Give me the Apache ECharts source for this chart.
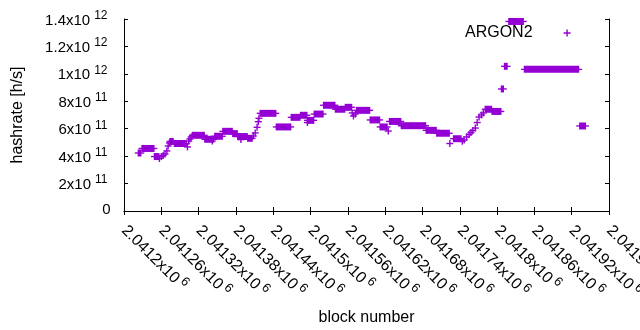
<!DOCTYPE html>
<html>
<head>
<meta charset="utf-8">
<script src="https://cdn.jsdelivr.net/npm/echarts@6.0.0/dist/echarts.min.js"></script>
<style>
html,body{margin:0;padding:0;background:#fff}
#chart{width:640px;height:330px}
</style>
</head>
<body>
<div id="chart"></div>
<script>
// runs of blocks that share one hashrate value (a single block when from == to)
var runFrom = [2041223,2041229,2041249,2041257,2041260,2041263,2041266,2041269,2041271,2041273,
  2041274,2041281,2041302,2041304,2041306,2041308,2041310,2041330,2041342,2041346,
  2041359,2041375,2041383,2041388,2041399,2041408,2041411,2041414,2041416,2041417,
  2041419,2041445,2041469,2041484,2041495,2041495,2041506,2041521,2041540,2041556,
  2041567,2041569,2041572,2041574,2041596,2041612,2041625,2041627,2041646,2041686,
  2041703,2041724,2041730,2041744,2041747,2041751,2041755,2041758,2041761,2041765,
  2041768,2041771,2041775,2041778,2041781,2041792,2041807,2041812,2041819,2041844,
  2041933];
var runTo = [2041227,2041248,2041256,2041257,2041260,2041263,2041266,2041269,2041271,2041273,
  2041279,2041300,2041302,2041304,2041306,2041308,2041329,2041344,2041342,2041358,
  2041374,2041382,2041398,2041388,2041406,2041408,2041411,2041414,2041416,2041417,
  2041444,2041468,2041483,2041494,2041505,2041495,2041520,2041539,2041555,2041566,
  2041567,2041569,2041572,2041595,2041611,2041623,2041625,2041645,2041685,2041702,
  2041723,2041724,2041742,2041744,2041747,2041751,2041755,2041758,2041761,2041765,
  2041768,2041771,2041775,2041778,2041791,2041806,2041810,2041816,2041842,2041931,
  2041942];
var runHashrate = [4.23e11,4.56e11,3.97e11,3.83e11,3.97e11,4.05e11,4.16e11,4.38e11,4.74e11,4.96e11,
  5.07e11,4.92e11,4.67e11,5.10e11,5.25e11,5.40e11,5.52e11,5.23e11,5.10e11,5.45e11,
  5.81e11,5.64e11,5.43e11,5.21e11,5.30e11,5.47e11,5.69e11,6.10e11,6.51e11,6.76e11,
  7.12e11,6.13e11,6.83e11,6.98e11,6.61e11,6.45e11,7.07e11,7.71e11,7.42e11,7.56e11,
  7.15e11,6.93e11,7.07e11,7.34e11,6.64e11,6.13e11,5.83e11,6.53e11,6.22e11,5.88e11,
  5.67e11,4.92e11,5.27e11,5.08e11,5.18e11,5.40e11,5.58e11,5.72e11,5.87e11,6.05e11,
  6.45e11,6.85e11,7.00e11,7.15e11,7.42e11,7.26e11,8.90e11,1.055e12,1.382e12,1.033e12,
  6.20e11];

var xMin = 2041200, xMax = 2041980, xStep = 60;
var xTickLabels = ['2.0412x10^6','2.04126x10^6','2.04132x10^6','2.04138x10^6','2.04144x10^6',
  '2.0415x10^6','2.04156x10^6','2.04162x10^6','2.04168x10^6','2.04174x10^6','2.0418x10^6',
  '2.04186x10^6','2.04192x10^6','2.04198x10^6'];
var yStep = 2e11;
var yTickLabels = ['0','2x10^11','4x10^11','6x10^11','8x10^11','1x10^12','1.2x10^12','1.4x10^12'];

var FONT = 'Liberation Sans';
var PURPLE = '#9400d3';

function sup(s) {
  var p = s.split('^');
  return p.length > 1 ? '{b|' + p[0] + '}{s|' + p[1] + '}' : '{b|' + p[0] + '}';
}
// exponent sits in a taller token so it rides above the base text
var yRich = {
  b: {fontFamily: FONT, fontSize: 15, color: '#000', lineHeight: 20, verticalAlign: 'bottom'},
  s: {fontFamily: FONT, fontSize: 12, color: '#000', lineHeight: 25, verticalAlign: 'middle', padding: [0, 3, 0, 4]}
};
var xRich = {
  b: {fontFamily: FONT, fontSize: 16, color: '#000', lineHeight: 20, verticalAlign: 'bottom'},
  s: {fontFamily: FONT, fontSize: 12.8, color: '#000', lineHeight: 26, verticalAlign: 'middle', padding: [0, 0, 0, 3]}
};

var runs = runFrom.map(function (b, i) {
  return [b, runTo[i], runHashrate[i]];
});

var myChart = echarts.init(document.getElementById('chart'));
var frameAxis = {
  axisLine: {show: true, lineStyle: {color: '#000', width: 1}},
  axisTick: {show: true, inside: true, length: 4, lineStyle: {color: '#000'}},
  axisLabel: {show: false},
  splitLine: {show: false}
};
var option = {
  animation: false,
  backgroundColor: '#fff',
  grid: {left: 124, right: 31, top: 19, bottom: 119, containLabel: false, outerBoundsMode: 'none'},
  legend: {
    left: 465, top: 25, padding: 0,
    align: 'right',
    itemWidth: 59, itemHeight: 7,
    selectedMode: false,
    textStyle: {fontFamily: FONT, fontSize: 16, color: '#000', padding: [4, 0, 0, 0]},
    data: [{
      name: 'ARGON2',
      icon: 'path://M0 0M59 7M26 2.8H33V4.2H26ZM28.8 0H30.2V7H28.8Z'
    }]
  },
  xAxis: [{
    type: 'value', min: xMin, max: xMax, interval: xStep,
    name: 'block number', nameLocation: 'middle', nameGap: 99,
    nameTextStyle: {fontFamily: FONT, fontSize: 16, color: '#000'},
    axisLine: {show: true, onZero: false, lineStyle: {color: '#000', width: 1}},
    axisTick: {show: true, inside: true, length: 4, lineStyle: {color: '#000'}},
    splitLine: {show: false},
    axisLabel: {
      rotate: -45, margin: 10, rich: xRich, padding: [0, 0, 0, 5],
      formatter: function (v) { return sup(xTickLabels[Math.round((v - xMin) / xStep)] || ''); }
    }
  }, echarts.util.extend(echarts.util.clone(frameAxis), {
    type: 'value', position: 'top', min: xMin, max: xMax, interval: xStep
  })],
  yAxis: [{
    type: 'value', min: 0, max: 1.4e12, interval: yStep,
    name: 'hashrate [h/s]', nameLocation: 'middle', nameGap: 98,
    nameTextStyle: {fontFamily: FONT, fontSize: 16, color: '#000'},
    axisLine: {show: true, onZero: false, lineStyle: {color: '#000', width: 1}},
    axisTick: {show: true, inside: true, length: 4, lineStyle: {color: '#000'}},
    splitLine: {show: false},
    axisLabel: {
      margin: 13.5, rich: yRich, padding: [0, 0, 7, 0],
      formatter: function (v) { return sup(yTickLabels[Math.round(v / yStep)] || ''); }
    }
  }, echarts.util.extend(echarts.util.clone(frameAxis), {
    type: 'value', position: 'right', min: 0, max: 1.4e12, interval: yStep
  })],
  series: [{
    name: 'ARGON2',
    type: 'custom',
    xAxisIndex: 0, yAxisIndex: 0,
    itemStyle: {color: PURPLE},
    encode: {x: [0, 1], y: 2},
    renderItem: function (params, api) {
      var a = api.coord([api.value(0), api.value(2)]);
      var b = api.coord([api.value(1), api.value(2)]);
      var half = 3.5, t = 0.7;
      return {
        type: 'group',
        children: [{
          type: 'rect',
          shape: {x: a[0] - t, y: a[1] - half, width: b[0] - a[0] + 2 * t, height: 2 * half},
          style: {fill: PURPLE}
        }, {
          type: 'rect',
          shape: {x: a[0] - half, y: a[1] - t, width: b[0] - a[0] + 2 * half, height: 2 * t},
          style: {fill: PURPLE}
        }]
      };
    },
    data: runs
  }]
};
myChart.setOption(option);
</script>
</body>
</html>
